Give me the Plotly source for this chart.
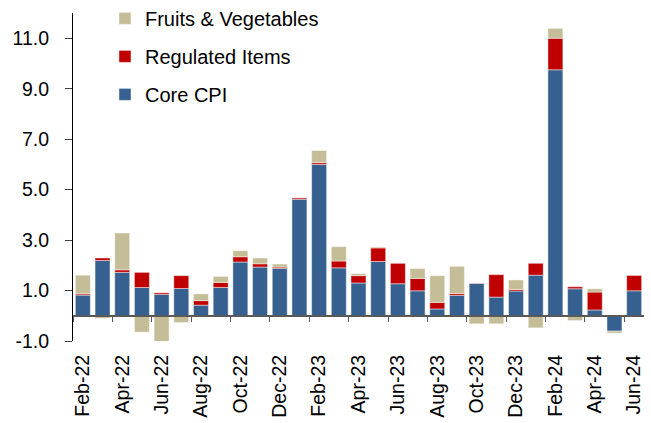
import plotly.graph_objects as go

months = ["Feb-22","Mar-22","Apr-22","May-22","Jun-22","Jul-22","Aug-22","Sep-22","Oct-22","Nov-22",
          "Dec-22","Jan-23","Feb-23","Mar-23","Apr-23","May-23","Jun-23","Jul-23","Aug-23","Sep-23",
          "Oct-23","Nov-23","Dec-23","Jan-24","Feb-24","Mar-24","Apr-24","May-24","Jun-24"]

core_cpi = [0.82, 2.19, 1.72, 1.12, 0.85, 1.08, 0.42, 1.12, 2.13, 1.93,
            1.88, 4.62, 6.00, 1.90, 1.30, 2.15, 1.27, 0.99, 0.27, 0.81,
            1.28, 0.74, 0.98, 1.61, 9.75, 1.07, 0.23, -0.61, 0.99]
regulated = [0.05, 0.10, 0.10, 0.60, 0.06, 0.51, 0.18, 0.20, 0.21, 0.13,
             0.05, 0.06, 0.07, 0.27, 0.29, 0.54, 0.82, 0.49, 0.26, 0.07,
             0.02, 0.89, 0.06, 0.47, 1.25, 0.08, 0.71, 0.00, 0.62]
fruits_veg = [0.74, -0.10, 1.46, -0.65, -1.04, -0.27, 0.27, 0.24, 0.24, 0.23,
              0.12, 0.00, 0.48, 0.57, 0.08, 0.04, 0.00, 0.39, 1.06, 1.08,
              -0.32, -0.32, 0.38, -0.48, 0.39, -0.19, 0.13, -0.08, 0.00]

y_ticks = [-1, 1, 3, 5, 7, 9, 11]

pos = list(range(len(months)))
label_pos = pos[::2]
label_text = months[::2]
tick_pos = [p - 0.5 for p in label_pos]

FONT = "Liberation Sans, Arial, sans-serif"
edge = dict(color="rgba(255,255,255,0.45)", width=1)

fig = go.Figure()
fig.add_trace(go.Bar(x=pos, y=core_cpi, name="Core CPI", marker=dict(color="#36608F", line=edge),
                     legendgroup="c", legendrank=3))
fig.add_trace(go.Bar(x=pos, y=regulated, name="Regulated Items", marker=dict(color="#C00000", line=edge),
                     legendgroup="r", legendrank=2))
fig.add_trace(go.Bar(x=pos, y=fruits_veg, name="Fruits & Vegetables", marker=dict(color="#C4BD97", line=edge),
                     legendgroup="f", legendrank=1))
# helper trace carrying the label axis
fig.add_trace(go.Scatter(x=pos, y=[None] * len(pos), xaxis="x2", showlegend=False, hoverinfo="skip"))

fig.update_layout(
    width=651, height=423,
    margin=dict(l=73, r=7, t=13, b=82, autoexpand=False),
    paper_bgcolor="white", plot_bgcolor="white",
    barmode="relative", bargap=0.24,
    font=dict(family=FONT, color="black", size=18),
    showlegend=True,
    legend=dict(x=0.056, y=1.043, xanchor="left", yanchor="top",
                traceorder="grouped", tracegroupgap=9,
                font=dict(size=20, family=FONT), bgcolor="rgba(0,0,0,0)"),
    xaxis=dict(range=[-0.5, len(months) - 0.5], anchor="free", position=1/13,
               showline=True, linecolor="#595959", linewidth=1.5,
               tickmode="array", tickvals=tick_pos, ticks="outside", ticklen=5,
               tickcolor="#595959", tickwidth=1.2,
               showticklabels=False, showgrid=False, zeroline=False),
    xaxis2=dict(range=[-0.5, len(months) - 0.5], overlaying="x", anchor="y", side="bottom",
                tickmode="array", tickvals=label_pos, ticktext=label_text, tickangle=-90,
                ticks="", showline=False, showgrid=False, zeroline=False,
                ticklabelstandoff=9,
                tickfont=dict(size=19.5, family=FONT, color="black")),
    yaxis=dict(range=[-1, 12], tickmode="array", tickvals=y_ticks,
               ticktext=[f"{v:.1f}" for v in y_ticks],
               ticks="outside", ticklen=7, tickcolor="#404040", tickwidth=1,
               ticklabelstandoff=12,
               showline=True, linecolor="black", linewidth=1,
               showgrid=False, zeroline=False,
               tickfont=dict(size=19.5, family=FONT, color="black")),
)

fig.write_html("out.html", config={"displayModeBar": False},
               post_script="document.body.style.margin='0';document.body.style.overflow='hidden';")
